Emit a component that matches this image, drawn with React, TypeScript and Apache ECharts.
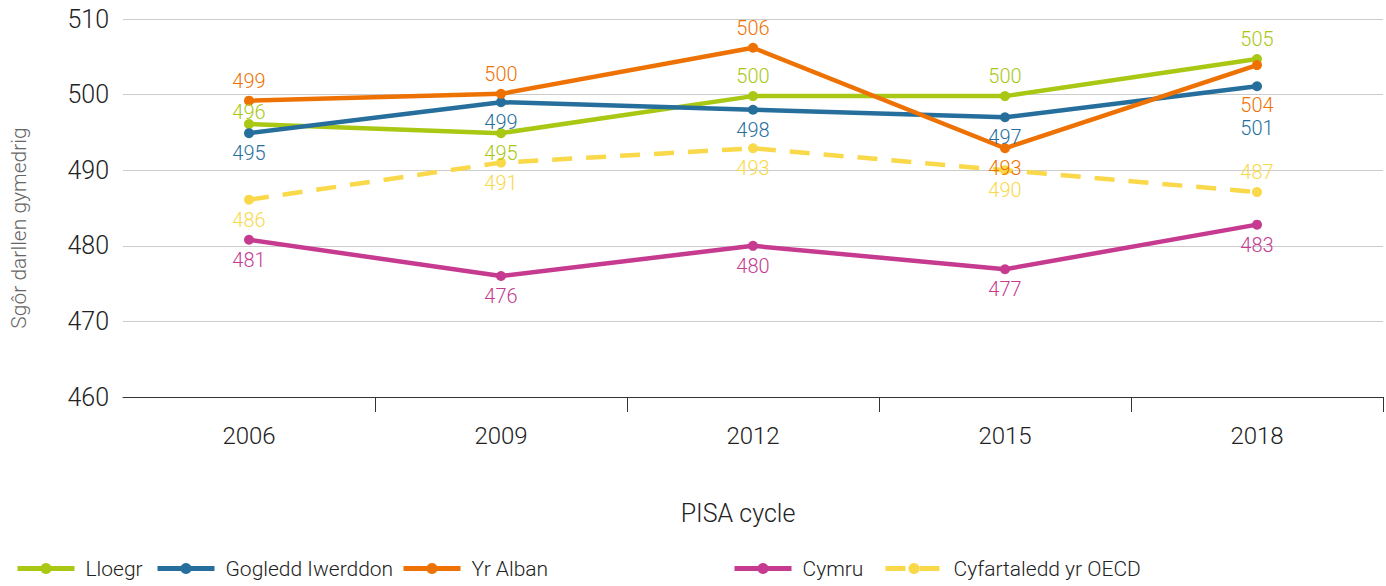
import React, { useEffect, useRef } from "react";
import * as echarts from "echarts";

const years = ["2006", "2009", "2012", "2015", "2018"];
const seriesNames = ["Lloegr", "Gogledd Iwerddon", "Yr Alban", "Cymru", "Cyfartaledd yr OECD"];
const lloegr = [496.1, 494.9, 499.8, 499.8, 504.7];
const gogleddIwerddon = [494.9, 499.0, 498.0, 497.0, 501.1];
const yrAlban = [499.2, 500.1, 506.2, 492.9, 503.9];
const cymru = [480.8, 476.0, 480.0, 476.9, 482.8];
const oecd = [486.1, 491.0, 492.9, 490.0, 487.1];
const colors = ["#a8c814", "#266f9c", "#ee7203", "#c63b8f", "#f9d849"];
// label placement per point: t = above, b = below
const labelPos = [
  ["t", "b", "t", "t", "t"],
  ["b", "b", "b", "b", "b"],
  ["t", "t", "t", "b", "b"],
  ["b", "b", "b", "b", "b"],
  ["b", "b", "b", "b", "t"],
];
const labelShift = [
  [8, 0, 0, 0, 0],
  [0, 0, 0, 0, 22],
  [0, 0, 0, 0, 20],
  [0, 0, 0, 0, 0],
  [0, 0, 0, 0, 0],
];
const legendLeft = [10, 150, 396, 727, 878];

export default function App() {
  const ref = useRef<HTMLDivElement>(null);
  useEffect(() => {
    if (!ref.current) return;
    const chart = echarts.init(ref.current, null, { renderer: "svg" });
    const allData = [lloegr, gogleddIwerddon, yrAlban, cymru, oecd];
    const font = "Roboto";
    const series = allData.map((vals, si) => ({
      name: seriesNames[si],
      type: "line",
      data: vals.map((v, i) => ({
        value: v,
        label: {
          position: labelPos[si][i] === "t" ? "top" : "bottom",
          offset: [0, labelShift[si][i]],
        },
      })),
      symbol: "circle",
      symbolSize: 10,
      color: colors[si],
      lineStyle: {
        width: 4.5,
        color: colors[si],
        type: si === 4 ? [20, 14] : "solid",
      },
      itemStyle: { color: colors[si] },
      label: {
        show: true,
        color: colors[si],
        fontFamily: font,
        fontWeight: 300,
        fontSize: 20,
        distance: 5,
        formatter: (p: any) => String(Math.round(p.value)),
      },
      z: si === 4 ? 1 : 2,
    }));
    chart.setOption({
      animation: false,
      backgroundColor: "#ffffff",
      grid: { left: 118, right: 3, top: 19, bottom: 189 },
      legend: seriesNames.map((n, i) => ({
        data: [n],
        left: legendLeft[i],
        bottom: 2,
        itemWidth: 57,
        itemHeight: 14,
        itemGap: 0,
        lineStyle: { width: 5 },
        textStyle: {
          fontFamily: font,
          fontWeight: 300,
          fontSize: 21,
          color: "#222",
          padding: [0, 0, 0, 6],
        },
      })),
      xAxis: {
        type: "category",
        data: years,
        boundaryGap: true,
        name: "PISA cycle",
        nameLocation: "middle",
        nameGap: 104,
        nameTextStyle: { fontFamily: font, fontWeight: 300, fontSize: 25, color: "#222", padding: [0, 30, 0, 0] },
        axisLine: { lineStyle: { color: "#333", width: 1 } },
        axisTick: { show: true, length: 15, lineStyle: { color: "#333" }, interval: (index: number) => index !== 0 },
        axisLabel: { fontFamily: font, fontWeight: 300, fontSize: 24, color: "#222", margin: 27 },
        splitLine: { show: false },
      },
      yAxis: {
        type: "value",
        min: 460,
        max: 510,
        interval: 10,
        name: "Sgôr darllen gymedrig",
        nameLocation: "middle",
        nameGap: 94,
        nameRotate: 90,
        nameTextStyle: { fontFamily: font, fontWeight: 300, fontSize: 21, color: "#666", padding: [0, 40, 0, 0] },
        axisLine: { show: false },
        axisTick: { show: false },
        axisLabel: { fontFamily: font, fontWeight: 300, fontSize: 25, color: "#222", margin: 14 },
        splitLine: { lineStyle: { color: "#cccccc", width: 1 } },
      },
      series,
    });
    return () => chart.dispose();
  }, []);
  return <div ref={ref} style={{ width: 1386, height: 586, position: "absolute", left: 0, top: 0 }} />;
}
